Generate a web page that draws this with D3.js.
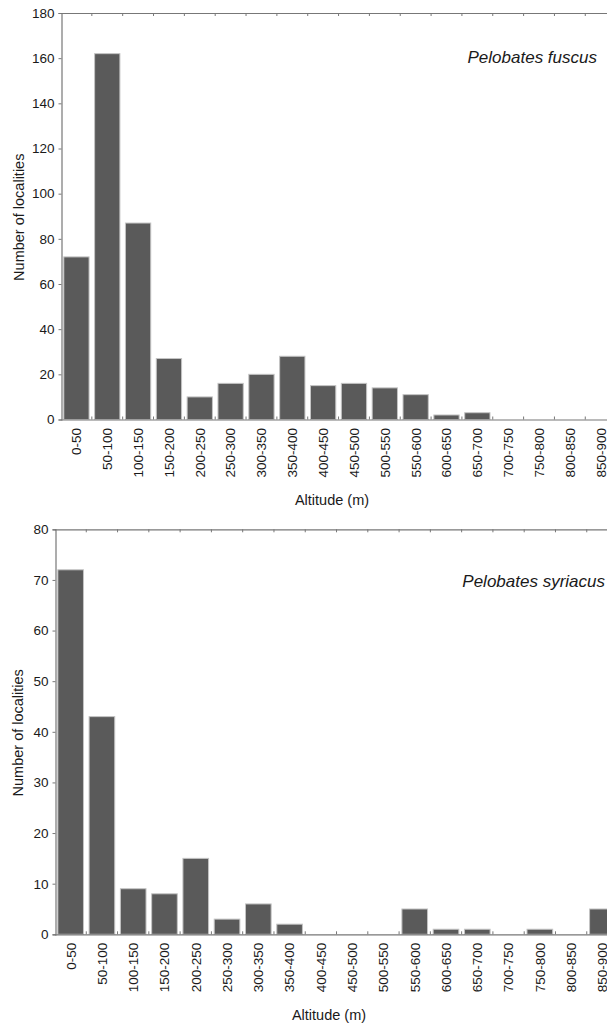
<!DOCTYPE html>
<html>
<head>
<meta charset="utf-8">
<script src="https://cdn.jsdelivr.net/npm/d3@7/dist/d3.min.js"></script>
<style>
  html, body { margin: 0; padding: 0; background: #fff; }
  svg { display: block; }
  svg text { font-family: "Liberation Sans", Arial, Helvetica, sans-serif !important; }
</style>
</head>
<body>
<svg id="chart" width="607" height="1024"></svg>
<script>
const categories = ["0-50","50-100","100-150","150-200","200-250","250-300","300-350","350-400","400-450","450-500","500-550","550-600","600-650","650-700","700-750","750-800","800-850","850-900"];
const fuscusValues   = [72, 162, 87, 27, 10, 16, 20, 28, 15, 16, 14, 11, 2, 3, 0, 0, 0, 0];
const syriacusValues = [72, 43, 9, 8, 15, 3, 6, 2, 0, 0, 0, 5, 1, 1, 0, 1, 0, 5];
const fuscusTicks   = [0, 20, 40, 60, 80, 100, 120, 140, 160, 180];
const syriacusTicks = [0, 10, 20, 30, 40, 50, 60, 70, 80];
const yTitle = "Number of localities";
const xTitle = "Altitude (m)";

const svg = d3.select("#chart");
const FONT = "'Liberation Sans', Arial, sans-serif";
const TXT = "#1a1a1a";

function panel(cfg) {
  const g = svg.append("g");
  const x = d3.scaleBand().domain(categories)
    .range([cfg.left, cfg.left + cfg.step * categories.length])
    .paddingInner(0.18).paddingOuter(0.09);
  const y = d3.scaleLinear().domain([0, cfg.yMax]).range([cfg.bottom, cfg.top]);
  const right = cfg.left + cfg.step * categories.length;
  const axisColor = "#777";

  // bars
  g.selectAll("rect.bar").data(cfg.values).join("rect")
    .attr("class", "bar")
    .attr("x", (d, i) => x(categories[i]))
    .attr("width", x.bandwidth())
    .attr("y", d => y(d))
    .attr("height", d => y(0) - y(d))
    .attr("fill", "#5a5a5a")
    .attr("stroke", "#c4c4c4")
    .attr("stroke-width", 1);

  // frame lines: top & bottom
  g.append("line").attr("x1", cfg.left).attr("x2", right)
    .attr("y1", cfg.top + 0.5).attr("y2", cfg.top + 0.5)
    .attr("stroke", axisColor).attr("stroke-width", 1.2);
  g.append("line").attr("x1", cfg.left).attr("x2", right)
    .attr("y1", cfg.bottom + 0.5).attr("y2", cfg.bottom + 0.5)
    .attr("stroke", axisColor).attr("stroke-width", 1.2);

  // boundary ticks (inside) top and bottom
  const gap = (x.step() - x.bandwidth()) / 2;
  const bounds = categories.map(c => x(c) - gap).concat([right]);
  g.selectAll("line.tt").data(bounds.slice(1)).join("line")
    .attr("class", "tt")
    .attr("x1", d => d).attr("x2", d => d)
    .attr("y1", cfg.top).attr("y2", cfg.top + 3)
    .attr("stroke", axisColor).attr("stroke-width", 1);
  g.selectAll("line.bt").data(bounds.slice(1)).join("line")
    .attr("class", "bt")
    .attr("x1", d => d).attr("x2", d => d)
    .attr("y1", cfg.bottom).attr("y2", cfg.bottom - 3)
    .attr("stroke", axisColor).attr("stroke-width", 1);

  // y axis
  const ya = g.append("g")
    .attr("transform", `translate(${cfg.left + 0.5},0)`)
    .call(d3.axisLeft(y).tickValues(cfg.ticks).tickSize(3).tickPadding(4).tickFormat(d3.format("d")));
  ya.attr("font-family", FONT).attr("font-size", 13);
  ya.select(".domain").attr("stroke", axisColor).attr("stroke-width", 1.2);
  ya.selectAll(".tick line").attr("stroke", axisColor);
  ya.selectAll(".tick text").style("font-size", "13.5px").attr("fill", TXT);

  // x axis labels (rotated)
  const xa = g.append("g")
    .attr("transform", `translate(0,${cfg.bottom})`)
    .call(d3.axisBottom(x).tickSize(0).tickPadding(0));
  xa.attr("font-family", FONT).attr("font-size", 13);
  xa.select(".domain").remove();
  xa.selectAll(".tick text")
    .style("font-size", "13.5px").attr("fill", TXT)
    .attr("text-anchor", "end")
    .attr("transform", "rotate(-90)")
    .attr("x", -8.5).attr("y", 0).attr("dy", "0.36em");

  // axis titles
  g.append("text")
    .attr("transform", `translate(${cfg.yTitleX},${(cfg.top + cfg.bottom) / 2 + 1}) rotate(-90)`)
    .attr("text-anchor", "middle").attr("dy", "0.35em")
    .style("font-size", "14.5px").attr("fill", TXT)
    .text(yTitle);
  g.append("text")
    .attr("x", cfg.xTitleX).attr("y", cfg.xTitleY)
    .attr("text-anchor", "middle")
    .style("font-size", "14.5px").attr("fill", TXT)
    .text(xTitle);

  // species label
  g.append("text")
    .attr("x", cfg.labelX).attr("y", cfg.labelY)
    .attr("text-anchor", "end")
    .style("font-size", "17px").style("font-style", "italic").attr("fill", TXT)
    .text(cfg.label);
}

panel({
  values: fuscusValues, ticks: fuscusTicks, yMax: 180,
  left: 61, step: 30.84, top: 13, bottom: 419.5,
  yTitleX: 19, xTitleX: 332, xTitleY: 505,
  label: "Pelobates fuscus", labelX: 597, labelY: 63
});
panel({
  values: syriacusValues, ticks: syriacusTicks, yMax: 80,
  left: 55, step: 31.28, top: 529.3, bottom: 934.3,
  yTitleX: 18, xTitleX: 329, xTitleY: 1020,
  label: "Pelobates syriacus", labelX: 605, labelY: 587
});
</script>
</body>
</html>
